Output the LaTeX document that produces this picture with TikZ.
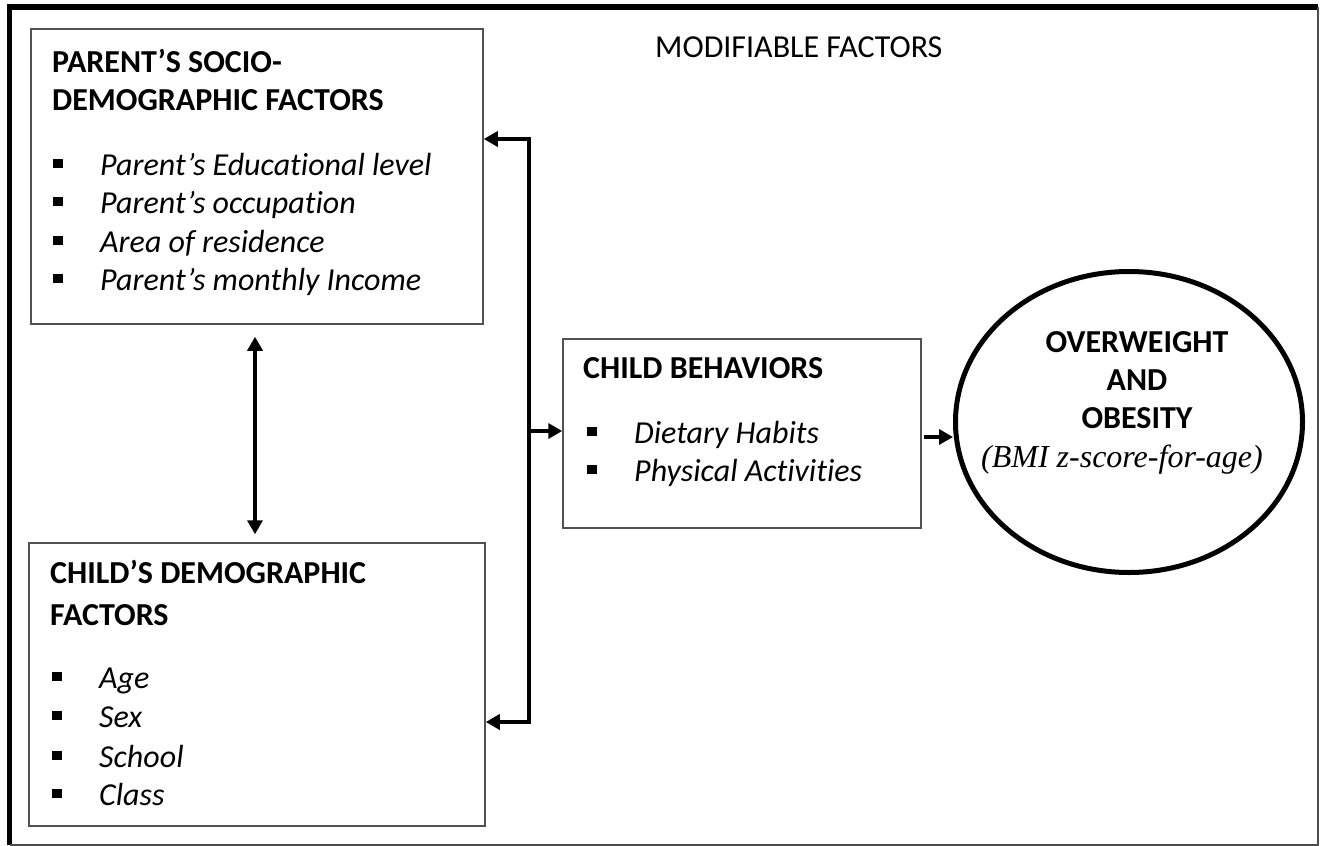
\documentclass[tikz,border=0pt]{standalone}
\usepackage{fontspec}
\setmainfont{Carlito}[Ligatures={NoCommon}]
\newfontfamily\timesfont{Liberation Serif}
\usetikzlibrary{arrows.meta,shapes.geometric}
\newcommand{\sqitem}[1]{\makebox[47pt][l]{\raisebox{7pt}{\rule{9.5pt}{9.5pt}}}\textit{#1}}
\tikzset{
  box/.style={draw=black!68, line width=1.5pt, rectangle, inner sep=0pt},
  txt/.style={inner sep=0pt, anchor=base west, font=\fontsize{32}{38}\selectfont},
  ttl/.style={txt, font=\fontsize{32}{38}\selectfont\bfseries},
  ctr/.style={inner sep=0pt, anchor=base, font=\fontsize{32}{38}\selectfont\bfseries},
  tipA/.tip={Triangle[length=14pt,width=15pt]},
  conn/.style={line width=3.6pt, black},
}
\begin{document}
\begin{tikzpicture}[x=1pt,y=-1pt]
\useasboundingbox (0,0) rectangle (1320,846);
% outer frame
\draw[line width=5.5pt] (9.5,845) -- (9.5,7) -- (1318,7);
\draw[line width=1.5pt, black!70] (1318,7) -- (1318,845) -- (9.5,845);

\node[txt] (mod) at (655,57) {MODIFIABLE FACTORS};

% boxes
\node[box, minimum width=452pt, minimum height=295pt] (parent) at (257,176.5) {};
\node[box, minimum width=456pt, minimum height=283pt] (child) at (257,684.5) {};
\node[box, minimum width=358pt, minimum height=189pt] (cb) at (742,433.5) {};
\node[draw, ellipse, line width=5pt, minimum width=347pt, minimum height=301pt, inner sep=0pt] (ow) at (1129,422) {};

% parent texts
\node[ttl] (pt1) at (52,72) {PARENT’S SOCIO-};
\node[ttl] (pt2) at (52,110) {DEMOGRAPHIC FACTORS};
\node[txt] (pi1) at (53,175) {\sqitem{Parent’s Educational level}};
\node[txt] (pi2) at (53,213) {\sqitem{Parent’s occupation}};
\node[txt] (pi3) at (53,252) {\sqitem{Area of residence}};
\node[txt] (pi4) at (53,290) {\sqitem{Parent’s monthly Income}};

% child demographic texts
\node[ttl] (ct1) at (50,583) {CHILD’S DEMOGRAPHIC};
\node[ttl] (ct2) at (50,625) {FACTORS};
\node[txt] (ci1) at (52,688) {\sqitem{Age}};
\node[txt] (ci2) at (52,727) {\sqitem{Sex}};
\node[txt] (ci3) at (52,767) {\sqitem{School}};
\node[txt] (ci4) at (52,805) {\sqitem{Class}};

% child behaviours texts
\node[ttl] (bt1) at (583,378) {CHILD BEHAVIORS};
\node[txt] (bi1) at (587,443) {\sqitem{Dietary Habits}};
\node[txt] (bi2) at (587,481) {\sqitem{Physical Activities}};

% ellipse texts
\node[ctr] (o1) at (1137,352) {OVERWEIGHT};
\node[ctr] (o2) at (1137,390) {AND};
\node[ctr] (o3) at (1137,428) {OBESITY};
\node[inner sep=0pt, anchor=base, font=\fontsize{32}{38}\selectfont\timesfont\itshape] (o4) at (1122,467) {(BMI z-score-for-age)};

% connectors
\coordinate (jt) at (529,139);
\coordinate (jm) at (529,431);
\coordinate (jb) at (529,722);
\coordinate (va) at (255,0);
\coordinate (ra) at (0,437);
\draw[conn, line cap=rect] (jt) -- (jb);
\draw[conn, -{tipA}] (jt) -- (jt -| parent.east);
\draw[conn, -{tipA}] (jb) -- (jb -| child.east);
\draw[conn, -{tipA}] (jm) -- (jm -| cb.west);
\draw[line width=3.4pt, {tipA}-{tipA}, shorten <=12pt, shorten >=8pt] (va |- parent.south) -- (va |- child.north);
\draw[line width=3.4pt, -{tipA}, shorten <=2pt] (cb.east |- ra) -- (ow.west |- ra);
\end{tikzpicture}
\end{document}
